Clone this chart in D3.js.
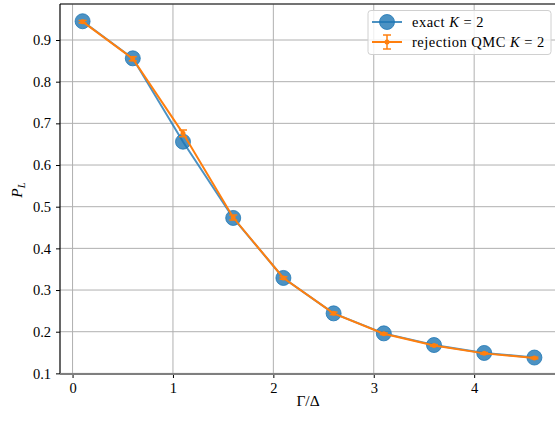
<!DOCTYPE html>
<html>
<head>
<meta charset="utf-8">
<script src="https://cdn.jsdelivr.net/npm/d3@7"></script>
<style>
  body { margin: 0; background: #fff; }
</style>
</head>
<body>
<div id="chart"></div>
<script>
// Gamma/Delta values
var gammaValues = [0.1, 0.6, 1.1, 1.6, 2.1, 2.6, 3.1, 3.6, 4.1, 4.6];
// exact K = 2
var exactValues = [0.945, 0.856, 0.656, 0.473, 0.329, 0.244, 0.196, 0.168, 0.149, 0.138];
// rejection QMC K = 2, with error bars
var qmcValues = [0.944, 0.855, 0.676, 0.474, 0.329, 0.244, 0.195, 0.167, 0.148, 0.137];
var qmcErrors = [0.003, 0.005, 0.008, 0.006, 0.003, 0.003, 0.002, 0.002, 0.002, 0.002];
var xTicks = [0, 1, 2, 3, 4];
var yTicks = [0.1, 0.2, 0.3, 0.4, 0.5, 0.6, 0.7, 0.8, 0.9];

var width = 555, height = 423;
var margin = {left: 60, top: 4, right: -2, bottom: 49};
var serif = "'Liberation Serif'";

var svg = d3.select("#chart").append("svg")
  .attr("width", width)
  .attr("height", height);

var x = d3.scaleLinear().domain([-0.125, 4.825]).range([margin.left, width - margin.right]);
var y = d3.scaleLinear().domain([0.0985, 0.9864]).range([height - margin.bottom, margin.top]);

//Grid
svg.append("g").selectAll("line").data(xTicks).enter().append("line")
  .attr("x1", d => x(d)).attr("x2", d => x(d))
  .attr("y1", y.range()[0]).attr("y2", y.range()[1])
  .attr("stroke", "#b0b0b0").attr("stroke-width", 1);
svg.append("g").selectAll("line").data(yTicks).enter().append("line")
  .attr("x1", x.range()[0]).attr("x2", x.range()[1])
  .attr("y1", d => y(d)).attr("y2", d => y(d))
  .attr("stroke", "#b0b0b0").attr("stroke-width", 1);

//Axes
var xAxis = svg.append("g")
  .attr("transform", "translate(0," + y.range()[0] + ")")
  .call(d3.axisBottom(x).tickValues(xTicks).tickSize(4).tickPadding(5).tickFormat(d3.format("d")));
var yAxis = svg.append("g")
  .attr("transform", "translate(" + x.range()[0] + ",0)")
  .call(d3.axisLeft(y).tickValues(yTicks).tickSize(4).tickPadding(5).tickFormat(d3.format(".1f")));
[xAxis, yAxis].forEach(function(a){
  a.select(".domain").remove();
  a.selectAll("text").style("font-family", serif).style("font-size", "14.5px").attr("fill", "#000");
  a.selectAll("line").attr("stroke", "#000").attr("stroke-width", 1);
});

//Spines
svg.append("line").attr("x1", x.range()[0]).attr("x2", x.range()[1])
  .attr("y1", y.range()[1]).attr("y2", y.range()[1])
  .attr("stroke", "#444").attr("stroke-width", 1.5);
svg.append("line").attr("x1", x.range()[0]).attr("x2", x.range()[0])
  .attr("y1", y.range()[1]).attr("y2", y.range()[0])
  .attr("stroke", "#000").attr("stroke-width", 1.2);
svg.append("line").attr("x1", x.range()[0]).attr("x2", x.range()[1])
  .attr("y1", y.range()[0]).attr("y2", y.range()[0])
  .attr("stroke", "#7f7f7f").attr("stroke-width", 2.2);

var blue = "#1f77b4", orange = "#ff7f0e";
var line = d3.line().x(d => x(d[0])).y(d => y(d[1]));

//exact series
svg.append("path")
  .datum(d3.zip(gammaValues, exactValues))
  .attr("d", line).attr("fill", "none")
  .attr("stroke", blue).attr("stroke-opacity", 0.8).attr("stroke-width", 2);
svg.append("g").selectAll("circle").data(d3.zip(gammaValues, exactValues)).enter().append("circle")
  .attr("cx", d => x(d[0])).attr("cy", d => y(d[1])).attr("r", 7.5)
  .attr("fill", blue).attr("fill-opacity", 0.8)
  .attr("stroke", blue).attr("stroke-opacity", 0.8).attr("stroke-width", 1);

//QMC series
var qmc = gammaValues.map((g, i) => [g, qmcValues[i], qmcErrors[i]]);
svg.append("path")
  .datum(qmc)
  .attr("d", line).attr("fill", "none")
  .attr("stroke", orange).attr("stroke-width", 2);
var eb = svg.append("g").selectAll("g").data(qmc).enter().append("g")
  .attr("stroke", orange).attr("stroke-width", 1.5);
eb.append("line").attr("x1", d => x(d[0])).attr("x2", d => x(d[0]))
  .attr("y1", d => y(d[1] - d[2])).attr("y2", d => y(d[1] + d[2]));
eb.append("line").attr("x1", d => x(d[0]) - 4).attr("x2", d => x(d[0]) + 4)
  .attr("y1", d => y(d[1] - d[2])).attr("y2", d => y(d[1] - d[2]));
eb.append("line").attr("x1", d => x(d[0]) - 4).attr("x2", d => x(d[0]) + 4)
  .attr("y1", d => y(d[1] + d[2])).attr("y2", d => y(d[1] + d[2]));
svg.append("g").selectAll("circle").data(qmc).enter().append("circle")
  .attr("cx", d => x(d[0])).attr("cy", d => y(d[1])).attr("r", 2.5)
  .attr("fill", orange);

//Labels
svg.append("text").attr("x", 308).attr("y", 406).attr("text-anchor", "middle")
  .style("font-family", serif).style("font-size", "15.5px").text("Γ/Δ");
var yl = svg.append("text").attr("transform", "translate(22,190) rotate(-90)")
  .attr("text-anchor", "middle").style("font-family", serif).style("font-size", "15.5px")
  .attr("font-style", "italic");
yl.append("tspan").text("P");
yl.append("tspan").style("font-size", "10.5px").attr("dy", 3).text("L");

//Legend
var lg = svg.append("g");
lg.append("rect").attr("x", 368).attr("y", 10.5).attr("width", 183).attr("height", 44).attr("rx", 3)
  .attr("fill", "#fff").attr("fill-opacity", 0.8).attr("stroke", "#d0d0d0").attr("stroke-width", 1);
lg.append("line").attr("x1", 372).attr("x2", 402).attr("y1", 22).attr("y2", 22)
  .attr("stroke", blue).attr("stroke-opacity", 0.8).attr("stroke-width", 2);
lg.append("circle").attr("cx", 387).attr("cy", 22).attr("r", 7.5)
  .attr("fill", blue).attr("fill-opacity", 0.8).attr("stroke", blue).attr("stroke-opacity", 0.8);
lg.append("line").attr("x1", 372).attr("x2", 402).attr("y1", 42).attr("y2", 42)
  .attr("stroke", orange).attr("stroke-width", 2);
lg.append("line").attr("x1", 387).attr("x2", 387).attr("y1", 35).attr("y2", 49)
  .attr("stroke", orange).attr("stroke-width", 1.5);
lg.append("line").attr("x1", 383).attr("x2", 391).attr("y1", 35).attr("y2", 35)
  .attr("stroke", orange).attr("stroke-width", 1.5);
lg.append("line").attr("x1", 383).attr("x2", 391).attr("y1", 49).attr("y2", 49)
  .attr("stroke", orange).attr("stroke-width", 1.5);
lg.append("circle").attr("cx", 387).attr("cy", 42).attr("r", 2.5).attr("fill", orange);

function legendText(yPos, label){
  var t = lg.append("text").attr("x", 412).attr("y", yPos)
    .style("font-family", serif).style("font-size", "14.5px").attr("letter-spacing", 0.5);
  t.append("tspan").text(label + " ");
  t.append("tspan").attr("font-style", "italic").text("K");
  t.append("tspan").text(" = 2");
}
legendText(27, "exact");
legendText(47, "rejection QMC");
</script>
</body>
</html>
